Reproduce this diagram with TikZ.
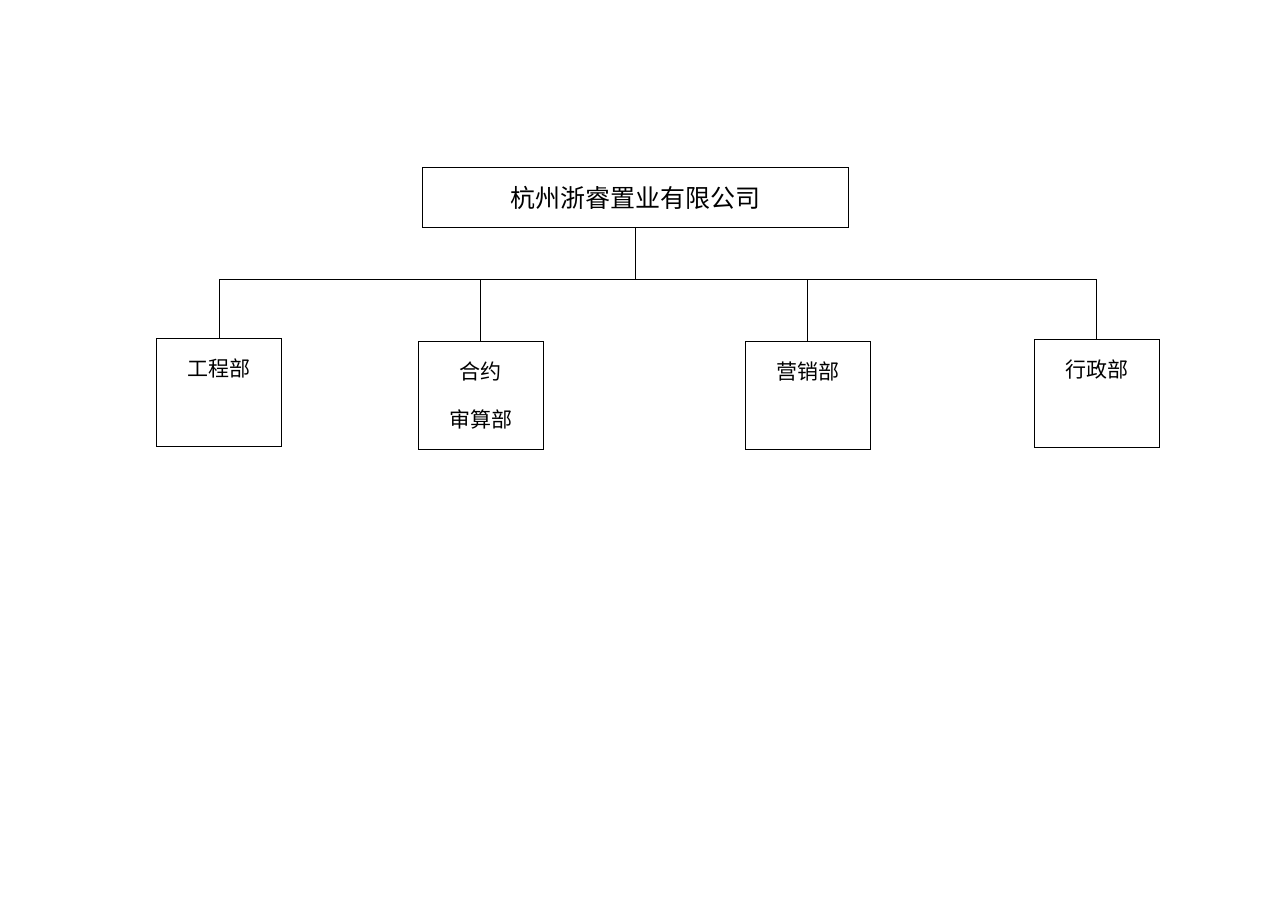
\documentclass[tikz,border=0pt]{standalone}
\usepackage{fontspec}
\newfontfamily\cjk{Noto Sans CJK SC}
\begin{document}
\begin{tikzpicture}[x=0.5pt,y=-0.5pt,line width=0.5pt,
	company/.style={draw,minimum width=213pt,minimum height=30pt,inner sep=0pt,font=\cjk\fontsize{12.5}{15}\selectfont},
	dept/.style={draw,minimum width=62.5pt,minimum height=54pt,inner sep=0pt,align=center,font=\cjk\fontsize{10.5}{24}\selectfont},
	deptlabel/.style={anchor=center,yshift=-15pt,inner sep=0pt,font=\cjk\fontsize{10.5}{12}\selectfont}]
	\useasboundingbox (0,0) rectangle (1285,908);
	\node[company] (top) at (635,198) {杭州浙睿置业有限公司};
	\node[dept,label={[deptlabel]north:工程部}] (gcb) at (219,393) {};
	\node[dept] (hy) at (480.5,396) {合约\\审算部};
	\node[dept,label={[deptlabel]north:营销部}] (yx) at (807.5,396) {};
	\node[dept,label={[deptlabel]north:行政部}] (xz) at (1096.5,394) {};
	\coordinate (bus) at (633,280);
	\draw (top.south) -- (top.south |- bus);
	\draw (gcb.north |- bus) -- (xz.north |- bus);
	\foreach \n in {gcb,hy,yx,xz}
		\draw (\n.north |- bus) -- (\n.north);
\end{tikzpicture}
\end{document}
